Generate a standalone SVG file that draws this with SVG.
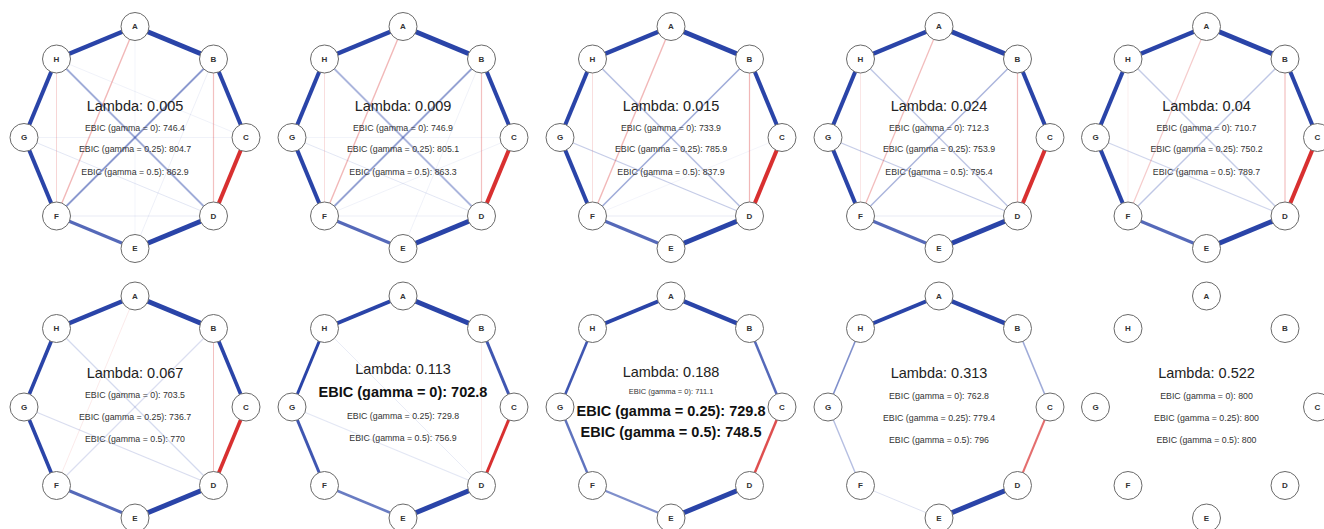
<svg xmlns="http://www.w3.org/2000/svg" width="1324" height="529" viewBox="0 0 1324 529">
<style>
.bg{fill:#ffffff}
.e{fill:none;stroke-linecap:butt}
.p{stroke:#2a44a8}
.n{stroke:#d83030}
.node circle{fill:#ffffff;stroke:#6a6a6a;stroke-width:1}
.node text{font-family:"Liberation Sans",Arial,sans-serif;font-size:8px;font-weight:bold;fill:#333;text-anchor:middle;dominant-baseline:central}
.lam{font-family:"Liberation Sans",Arial,sans-serif;font-size:14.5px;fill:#222;text-anchor:middle}
.eb{font-family:"Liberation Sans",Arial,sans-serif;font-size:8.8px;fill:#333;text-anchor:middle}
.big{font-family:"Liberation Sans",Arial,sans-serif;font-size:14.5px;font-weight:bold;fill:#111;text-anchor:middle}
</style>
<defs>
<g id="nodes">
<g class="node"><circle cx="0" cy="-111" r="14"/><text x="0" y="-111">A</text></g>
<g class="node"><circle cx="78.5" cy="-78.5" r="14"/><text x="78.5" y="-78.5">B</text></g>
<g class="node"><circle cx="111" cy="0" r="14"/><text x="111" y="0">C</text></g>
<g class="node"><circle cx="78.5" cy="78.5" r="14"/><text x="78.5" y="78.5">D</text></g>
<g class="node"><circle cx="0" cy="111" r="14"/><text x="0" y="111">E</text></g>
<g class="node"><circle cx="-78.5" cy="78.5" r="14"/><text x="-78.5" y="78.5">F</text></g>
<g class="node"><circle cx="-111" cy="0" r="14"/><text x="-111" y="0">G</text></g>
<g class="node"><circle cx="-78.5" cy="-78.5" r="14"/><text x="-78.5" y="-78.5">H</text></g>
</g>
</defs>
<rect class="bg" x="0" y="0" width="1324" height="529"/>

<!-- Panel 1 -->
<g id="panel1" transform="translate(135,137.5)">
<g id="p1-connectors" class="e">
<line class="p" x1="-111" y1="0" x2="111" y2="0" stroke-width="1" stroke-opacity="0.07"/>
<line class="p" x1="0" y1="111" x2="78.5" y2="-78.5" stroke-width="1" stroke-opacity="0.08"/>
<line class="p" x1="0" y1="-111" x2="0" y2="111" stroke-width="1" stroke-opacity="0.06"/>
<line class="p" x1="-78.5" y1="-78.5" x2="111" y2="0" stroke-width="1" stroke-opacity="0.07"/>
<line class="p" x1="-111" y1="0" x2="78.5" y2="78.5" stroke-width="1" stroke-opacity="0.13"/>
<line class="p" x1="-78.5" y1="78.5" x2="78.5" y2="78.5" stroke-width="1" stroke-opacity="0.1"/>
<line class="n" x1="-78.5" y1="-78.5" x2="-78.5" y2="78.5" stroke-width="1" stroke-opacity="0.2"/>
<line class="n" x1="78.5" y1="-78.5" x2="78.5" y2="78.5" stroke-width="1.2" stroke-opacity="0.3"/>
<line class="n" x1="0" y1="-111" x2="-78.5" y2="78.5" stroke-width="1.4" stroke-opacity="0.35"/>
<line class="p" x1="-78.5" y1="-78.5" x2="78.5" y2="78.5" stroke-width="1.8" stroke-opacity="0.45"/>
<line class="p" x1="78.5" y1="-78.5" x2="-78.5" y2="78.5" stroke-width="1.8" stroke-opacity="0.55"/>
<line class="p" x1="0" y1="-111" x2="78.5" y2="-78.5" stroke-width="5"/>
<line class="p" x1="0" y1="-111" x2="-78.5" y2="-78.5" stroke-width="4.5"/>
<line class="p" x1="-78.5" y1="-78.5" x2="-111" y2="0" stroke-width="4"/>
<line class="p" x1="-111" y1="0" x2="-78.5" y2="78.5" stroke-width="4"/>
<line class="p" x1="-78.5" y1="78.5" x2="0" y2="111" stroke-width="3" stroke-opacity="0.8"/>
<line class="p" x1="0" y1="111" x2="78.5" y2="78.5" stroke-width="5"/>
<line class="n" x1="78.5" y1="78.5" x2="111" y2="0" stroke-width="4"/>
<line class="p" x1="111" y1="0" x2="78.5" y2="-78.5" stroke-width="4"/>
</g>
<g id="p1-nodes"><use href="#nodes"/></g>
<text class="lam" x="0" y="-27">Lambda: 0.005</text>
<text class="eb" x="0" y="-7">EBIC (gamma = 0): 746.4</text>
<text class="eb" x="0" y="14">EBIC (gamma = 0.25): 804.7</text>
<text class="eb" x="0" y="37">EBIC (gamma = 0.5): 862.9</text>
</g>

<!-- Panel 2 -->
<g id="panel2" transform="translate(403,137.5)">
<g id="p2-connectors" class="e">
<line class="p" x1="-111" y1="0" x2="111" y2="0" stroke-width="1" stroke-opacity="0.06"/>
<line class="p" x1="0" y1="111" x2="78.5" y2="-78.5" stroke-width="1" stroke-opacity="0.07"/>
<line class="p" x1="-78.5" y1="78.5" x2="111" y2="0" stroke-width="1" stroke-opacity="0.07"/>
<line class="p" x1="-111" y1="0" x2="78.5" y2="78.5" stroke-width="1" stroke-opacity="0.13"/>
<line class="p" x1="-78.5" y1="78.5" x2="78.5" y2="78.5" stroke-width="1" stroke-opacity="0.09"/>
<line class="n" x1="-78.5" y1="-78.5" x2="-78.5" y2="78.5" stroke-width="1" stroke-opacity="0.16"/>
<line class="n" x1="78.5" y1="-78.5" x2="78.5" y2="78.5" stroke-width="1.2" stroke-opacity="0.3"/>
<line class="n" x1="0" y1="-111" x2="-78.5" y2="78.5" stroke-width="1.4" stroke-opacity="0.35"/>
<line class="p" x1="-78.5" y1="-78.5" x2="78.5" y2="78.5" stroke-width="1.8" stroke-opacity="0.4"/>
<line class="p" x1="78.5" y1="-78.5" x2="-78.5" y2="78.5" stroke-width="1.8" stroke-opacity="0.5"/>
<line class="p" x1="0" y1="-111" x2="78.5" y2="-78.5" stroke-width="5"/>
<line class="p" x1="0" y1="-111" x2="-78.5" y2="-78.5" stroke-width="4.5"/>
<line class="p" x1="-78.5" y1="-78.5" x2="-111" y2="0" stroke-width="4"/>
<line class="p" x1="-111" y1="0" x2="-78.5" y2="78.5" stroke-width="4"/>
<line class="p" x1="-78.5" y1="78.5" x2="0" y2="111" stroke-width="3" stroke-opacity="0.8"/>
<line class="p" x1="0" y1="111" x2="78.5" y2="78.5" stroke-width="5"/>
<line class="n" x1="78.5" y1="78.5" x2="111" y2="0" stroke-width="4"/>
<line class="p" x1="111" y1="0" x2="78.5" y2="-78.5" stroke-width="4"/>
</g>
<g id="p2-nodes"><use href="#nodes"/></g>
<text class="lam" x="0" y="-27">Lambda: 0.009</text>
<text class="eb" x="0" y="-7">EBIC (gamma = 0): 746.9</text>
<text class="eb" x="0" y="14">EBIC (gamma = 0.25): 805.1</text>
<text class="eb" x="0" y="37">EBIC (gamma = 0.5): 863.3</text>
</g>

<!-- Panel 3 -->
<g id="panel3" transform="translate(671,137.5)">
<g id="p3-connectors" class="e">
<line class="p" x1="-78.5" y1="78.5" x2="78.5" y2="78.5" stroke-width="1" stroke-opacity="0.1"/>
<line class="p" x1="-78.5" y1="78.5" x2="111" y2="0" stroke-width="1" stroke-opacity="0.05"/>
<line class="n" x1="-78.5" y1="-78.5" x2="-78.5" y2="78.5" stroke-width="1" stroke-opacity="0.16"/>
<line class="p" x1="-111" y1="0" x2="78.5" y2="78.5" stroke-width="1.3" stroke-opacity="0.27"/>
<line class="n" x1="78.5" y1="-78.5" x2="78.5" y2="78.5" stroke-width="1.2" stroke-opacity="0.35"/>
<line class="n" x1="0" y1="-111" x2="-78.5" y2="78.5" stroke-width="1.4" stroke-opacity="0.35"/>
<line class="p" x1="-78.5" y1="-78.5" x2="78.5" y2="78.5" stroke-width="1.6" stroke-opacity="0.35"/>
<line class="p" x1="78.5" y1="-78.5" x2="-78.5" y2="78.5" stroke-width="1.6" stroke-opacity="0.45"/>
<line class="p" x1="0" y1="-111" x2="78.5" y2="-78.5" stroke-width="5"/>
<line class="p" x1="0" y1="-111" x2="-78.5" y2="-78.5" stroke-width="4.5"/>
<line class="p" x1="-78.5" y1="-78.5" x2="-111" y2="0" stroke-width="4"/>
<line class="p" x1="-111" y1="0" x2="-78.5" y2="78.5" stroke-width="4"/>
<line class="p" x1="-78.5" y1="78.5" x2="0" y2="111" stroke-width="3" stroke-opacity="0.8"/>
<line class="p" x1="0" y1="111" x2="78.5" y2="78.5" stroke-width="5"/>
<line class="n" x1="78.5" y1="78.5" x2="111" y2="0" stroke-width="4"/>
<line class="p" x1="111" y1="0" x2="78.5" y2="-78.5" stroke-width="4"/>
</g>
<g id="p3-nodes"><use href="#nodes"/></g>
<text class="lam" x="0" y="-27">Lambda: 0.015</text>
<text class="eb" x="0" y="-7">EBIC (gamma = 0): 733.9</text>
<text class="eb" x="0" y="14">EBIC (gamma = 0.25): 785.9</text>
<text class="eb" x="0" y="37">EBIC (gamma = 0.5): 837.9</text>
</g>

<!-- Panel 4 -->
<g id="panel4" transform="translate(939,137.5)">
<g id="p4-connectors" class="e">
<line class="p" x1="-78.5" y1="78.5" x2="78.5" y2="78.5" stroke-width="1" stroke-opacity="0.1"/>
<line class="n" x1="-78.5" y1="-78.5" x2="-78.5" y2="78.5" stroke-width="1" stroke-opacity="0.12"/>
<line class="p" x1="-111" y1="0" x2="78.5" y2="78.5" stroke-width="1.3" stroke-opacity="0.27"/>
<line class="n" x1="78.5" y1="-78.5" x2="78.5" y2="78.5" stroke-width="1.2" stroke-opacity="0.33"/>
<line class="n" x1="0" y1="-111" x2="-78.5" y2="78.5" stroke-width="1.3" stroke-opacity="0.32"/>
<line class="p" x1="-78.5" y1="-78.5" x2="78.5" y2="78.5" stroke-width="1.5" stroke-opacity="0.3"/>
<line class="p" x1="78.5" y1="-78.5" x2="-78.5" y2="78.5" stroke-width="1.5" stroke-opacity="0.4"/>
<line class="p" x1="0" y1="-111" x2="78.5" y2="-78.5" stroke-width="5"/>
<line class="p" x1="0" y1="-111" x2="-78.5" y2="-78.5" stroke-width="4.5"/>
<line class="p" x1="-78.5" y1="-78.5" x2="-111" y2="0" stroke-width="4"/>
<line class="p" x1="-111" y1="0" x2="-78.5" y2="78.5" stroke-width="4"/>
<line class="p" x1="-78.5" y1="78.5" x2="0" y2="111" stroke-width="3" stroke-opacity="0.8"/>
<line class="p" x1="0" y1="111" x2="78.5" y2="78.5" stroke-width="5"/>
<line class="n" x1="78.5" y1="78.5" x2="111" y2="0" stroke-width="4"/>
<line class="p" x1="111" y1="0" x2="78.5" y2="-78.5" stroke-width="4"/>
</g>
<g id="p4-nodes"><use href="#nodes"/></g>
<text class="lam" x="0" y="-27">Lambda: 0.024</text>
<text class="eb" x="0" y="-7">EBIC (gamma = 0): 712.3</text>
<text class="eb" x="0" y="14">EBIC (gamma = 0.25): 753.9</text>
<text class="eb" x="0" y="37">EBIC (gamma = 0.5): 795.4</text>
</g>

<!-- Panel 5 -->
<g id="panel5" transform="translate(1206.5,137.5)">
<g id="p5-connectors" class="e">
<line class="n" x1="-78.5" y1="-78.5" x2="-78.5" y2="78.5" stroke-width="1" stroke-opacity="0.08"/>
<line class="p" x1="-111" y1="0" x2="78.5" y2="78.5" stroke-width="1.3" stroke-opacity="0.22"/>
<line class="n" x1="78.5" y1="-78.5" x2="78.5" y2="78.5" stroke-width="1.2" stroke-opacity="0.3"/>
<line class="n" x1="0" y1="-111" x2="-78.5" y2="78.5" stroke-width="1.2" stroke-opacity="0.25"/>
<line class="p" x1="-78.5" y1="-78.5" x2="78.5" y2="78.5" stroke-width="1.4" stroke-opacity="0.27"/>
<line class="p" x1="78.5" y1="-78.5" x2="-78.5" y2="78.5" stroke-width="1.4" stroke-opacity="0.3"/>
<line class="p" x1="0" y1="-111" x2="78.5" y2="-78.5" stroke-width="5"/>
<line class="p" x1="0" y1="-111" x2="-78.5" y2="-78.5" stroke-width="4.5"/>
<line class="p" x1="-78.5" y1="-78.5" x2="-111" y2="0" stroke-width="4"/>
<line class="p" x1="-111" y1="0" x2="-78.5" y2="78.5" stroke-width="4"/>
<line class="p" x1="-78.5" y1="78.5" x2="0" y2="111" stroke-width="3" stroke-opacity="0.8"/>
<line class="p" x1="0" y1="111" x2="78.5" y2="78.5" stroke-width="5"/>
<line class="n" x1="78.5" y1="78.5" x2="111" y2="0" stroke-width="4"/>
<line class="p" x1="111" y1="0" x2="78.5" y2="-78.5" stroke-width="4"/>
</g>
<g id="p5-nodes"><use href="#nodes"/></g>
<text class="lam" x="0" y="-27">Lambda: 0.04</text>
<text class="eb" x="0" y="-7">EBIC (gamma = 0): 710.7</text>
<text class="eb" x="0" y="14">EBIC (gamma = 0.25): 750.2</text>
<text class="eb" x="0" y="37">EBIC (gamma = 0.5): 789.7</text>
</g>

<!-- Panel 6 -->
<g id="panel6" transform="translate(135,407)">
<g id="p6-connectors" class="e">
<line class="n" x1="0" y1="-111" x2="-78.5" y2="78.5" stroke-width="1" stroke-opacity="0.1"/>
<line class="p" x1="-111" y1="0" x2="78.5" y2="78.5" stroke-width="1.2" stroke-opacity="0.18"/>
<line class="n" x1="78.5" y1="-78.5" x2="78.5" y2="78.5" stroke-width="1" stroke-opacity="0.3"/>
<line class="p" x1="-78.5" y1="-78.5" x2="78.5" y2="78.5" stroke-width="1.3" stroke-opacity="0.2"/>
<line class="p" x1="78.5" y1="-78.5" x2="-78.5" y2="78.5" stroke-width="1.2" stroke-opacity="0.17"/>
<line class="p" x1="0" y1="-111" x2="78.5" y2="-78.5" stroke-width="5"/>
<line class="p" x1="0" y1="-111" x2="-78.5" y2="-78.5" stroke-width="4.5"/>
<line class="p" x1="-78.5" y1="-78.5" x2="-111" y2="0" stroke-width="3.6"/>
<line class="p" x1="-111" y1="0" x2="-78.5" y2="78.5" stroke-width="3.6"/>
<line class="p" x1="-78.5" y1="78.5" x2="0" y2="111" stroke-width="3" stroke-opacity="0.8"/>
<line class="p" x1="0" y1="111" x2="78.5" y2="78.5" stroke-width="5"/>
<line class="n" x1="78.5" y1="78.5" x2="111" y2="0" stroke-width="3.6"/>
<line class="p" x1="111" y1="0" x2="78.5" y2="-78.5" stroke-width="3.6"/>
</g>
<g id="p6-nodes"><use href="#nodes"/></g>
<text class="lam" x="0" y="-29">Lambda: 0.067</text>
<text class="eb" x="0" y="-9">EBIC (gamma = 0): 703.5</text>
<text class="eb" x="0" y="13">EBIC (gamma = 0.25): 736.7</text>
<text class="eb" x="0" y="35">EBIC (gamma = 0.5): 770</text>
</g>

<!-- Panel 7 -->
<g id="panel7" transform="translate(403,407)">
<g id="p7-connectors" class="e">
<line class="n" x1="78.5" y1="-78.5" x2="78.5" y2="78.5" stroke-width="1" stroke-opacity="0.1"/>
<line class="p" x1="-111" y1="0" x2="78.5" y2="78.5" stroke-width="1.2" stroke-opacity="0.13"/>
<line class="p" x1="-78.5" y1="-78.5" x2="78.5" y2="78.5" stroke-width="1" stroke-opacity="0.1"/>
<line class="p" x1="0" y1="-111" x2="78.5" y2="-78.5" stroke-width="5"/>
<line class="p" x1="0" y1="-111" x2="-78.5" y2="-78.5" stroke-width="4"/>
<line class="p" x1="-78.5" y1="-78.5" x2="-111" y2="0" stroke-width="3"/>
<line class="p" x1="-111" y1="0" x2="-78.5" y2="78.5" stroke-width="3" stroke-opacity="0.9"/>
<line class="p" x1="-78.5" y1="78.5" x2="0" y2="111" stroke-width="2.6" stroke-opacity="0.7"/>
<line class="p" x1="0" y1="111" x2="78.5" y2="78.5" stroke-width="5"/>
<line class="n" x1="78.5" y1="78.5" x2="111" y2="0" stroke-width="3"/>
<line class="p" x1="111" y1="0" x2="78.5" y2="-78.5" stroke-width="3" stroke-opacity="0.9"/>
</g>
<g id="p7-nodes"><use href="#nodes"/></g>
<text class="lam" x="0" y="-33">Lambda: 0.113</text>
<text class="big" x="0" y="-10">EBIC (gamma = 0): 702.8</text>
<text class="eb" x="0" y="12">EBIC (gamma = 0.25): 729.8</text>
<text class="eb" x="0" y="34">EBIC (gamma = 0.5): 756.9</text>
</g>

<!-- Panel 8 -->
<g id="panel8" transform="translate(671,407)">
<g id="p8-connectors" class="e">
<line class="p" x1="0" y1="-111" x2="78.5" y2="-78.5" stroke-width="4.5"/>
<line class="p" x1="0" y1="-111" x2="-78.5" y2="-78.5" stroke-width="4"/>
<line class="p" x1="-78.5" y1="-78.5" x2="-111" y2="0" stroke-width="2.6" stroke-opacity="0.9"/>
<line class="p" x1="-111" y1="0" x2="-78.5" y2="78.5" stroke-width="2.4" stroke-opacity="0.75"/>
<line class="p" x1="-78.5" y1="78.5" x2="0" y2="111" stroke-width="2.2" stroke-opacity="0.6"/>
<line class="p" x1="0" y1="111" x2="78.5" y2="78.5" stroke-width="5"/>
<line class="n" x1="78.5" y1="78.5" x2="111" y2="0" stroke-width="2.5" stroke-opacity="0.85"/>
<line class="p" x1="111" y1="0" x2="78.5" y2="-78.5" stroke-width="2.5" stroke-opacity="0.8"/>
</g>
<g id="p8-nodes"><use href="#nodes"/></g>
<text class="lam" x="0" y="-30">Lambda: 0.188</text>
<text class="eb" x="0" y="-13" style="font-size:7.5px">EBIC (gamma = 0): 711.1</text>
<text class="big" x="0" y="9">EBIC (gamma = 0.25): 729.8</text>
<text class="big" x="0" y="30">EBIC (gamma = 0.5): 748.5</text>
</g>

<!-- Panel 9 -->
<g id="panel9" transform="translate(939,407)">
<g id="p9-connectors" class="e">
<line class="p" x1="0" y1="-111" x2="78.5" y2="-78.5" stroke-width="4.5"/>
<line class="p" x1="0" y1="-111" x2="-78.5" y2="-78.5" stroke-width="4"/>
<line class="p" x1="-78.5" y1="-78.5" x2="-111" y2="0" stroke-width="1.6" stroke-opacity="0.6"/>
<line class="p" x1="-111" y1="0" x2="-78.5" y2="78.5" stroke-width="1.4" stroke-opacity="0.35"/>
<line class="p" x1="-78.5" y1="78.5" x2="0" y2="111" stroke-width="1" stroke-opacity="0.15"/>
<line class="p" x1="0" y1="111" x2="78.5" y2="78.5" stroke-width="5"/>
<line class="n" x1="78.5" y1="78.5" x2="111" y2="0" stroke-width="2" stroke-opacity="0.7"/>
<line class="p" x1="111" y1="0" x2="78.5" y2="-78.5" stroke-width="1.6" stroke-opacity="0.45"/>
</g>
<g id="p9-nodes"><use href="#nodes"/></g>
<text class="lam" x="0" y="-29">Lambda: 0.313</text>
<text class="eb" x="0" y="-8">EBIC (gamma = 0): 762.8</text>
<text class="eb" x="0" y="14">EBIC (gamma = 0.25): 779.4</text>
<text class="eb" x="0" y="36">EBIC (gamma = 0.5): 796</text>
</g>

<!-- Panel 10 -->
<g id="panel10" transform="translate(1206.5,407)">
<g id="p10-connectors" class="e"></g>
<g id="p10-nodes"><use href="#nodes"/></g>
<text class="lam" x="0" y="-29">Lambda: 0.522</text>
<text class="eb" x="0" y="-8">EBIC (gamma = 0): 800</text>
<text class="eb" x="0" y="14">EBIC (gamma = 0.25): 800</text>
<text class="eb" x="0" y="36">EBIC (gamma = 0.5): 800</text>
</g>
</svg>
